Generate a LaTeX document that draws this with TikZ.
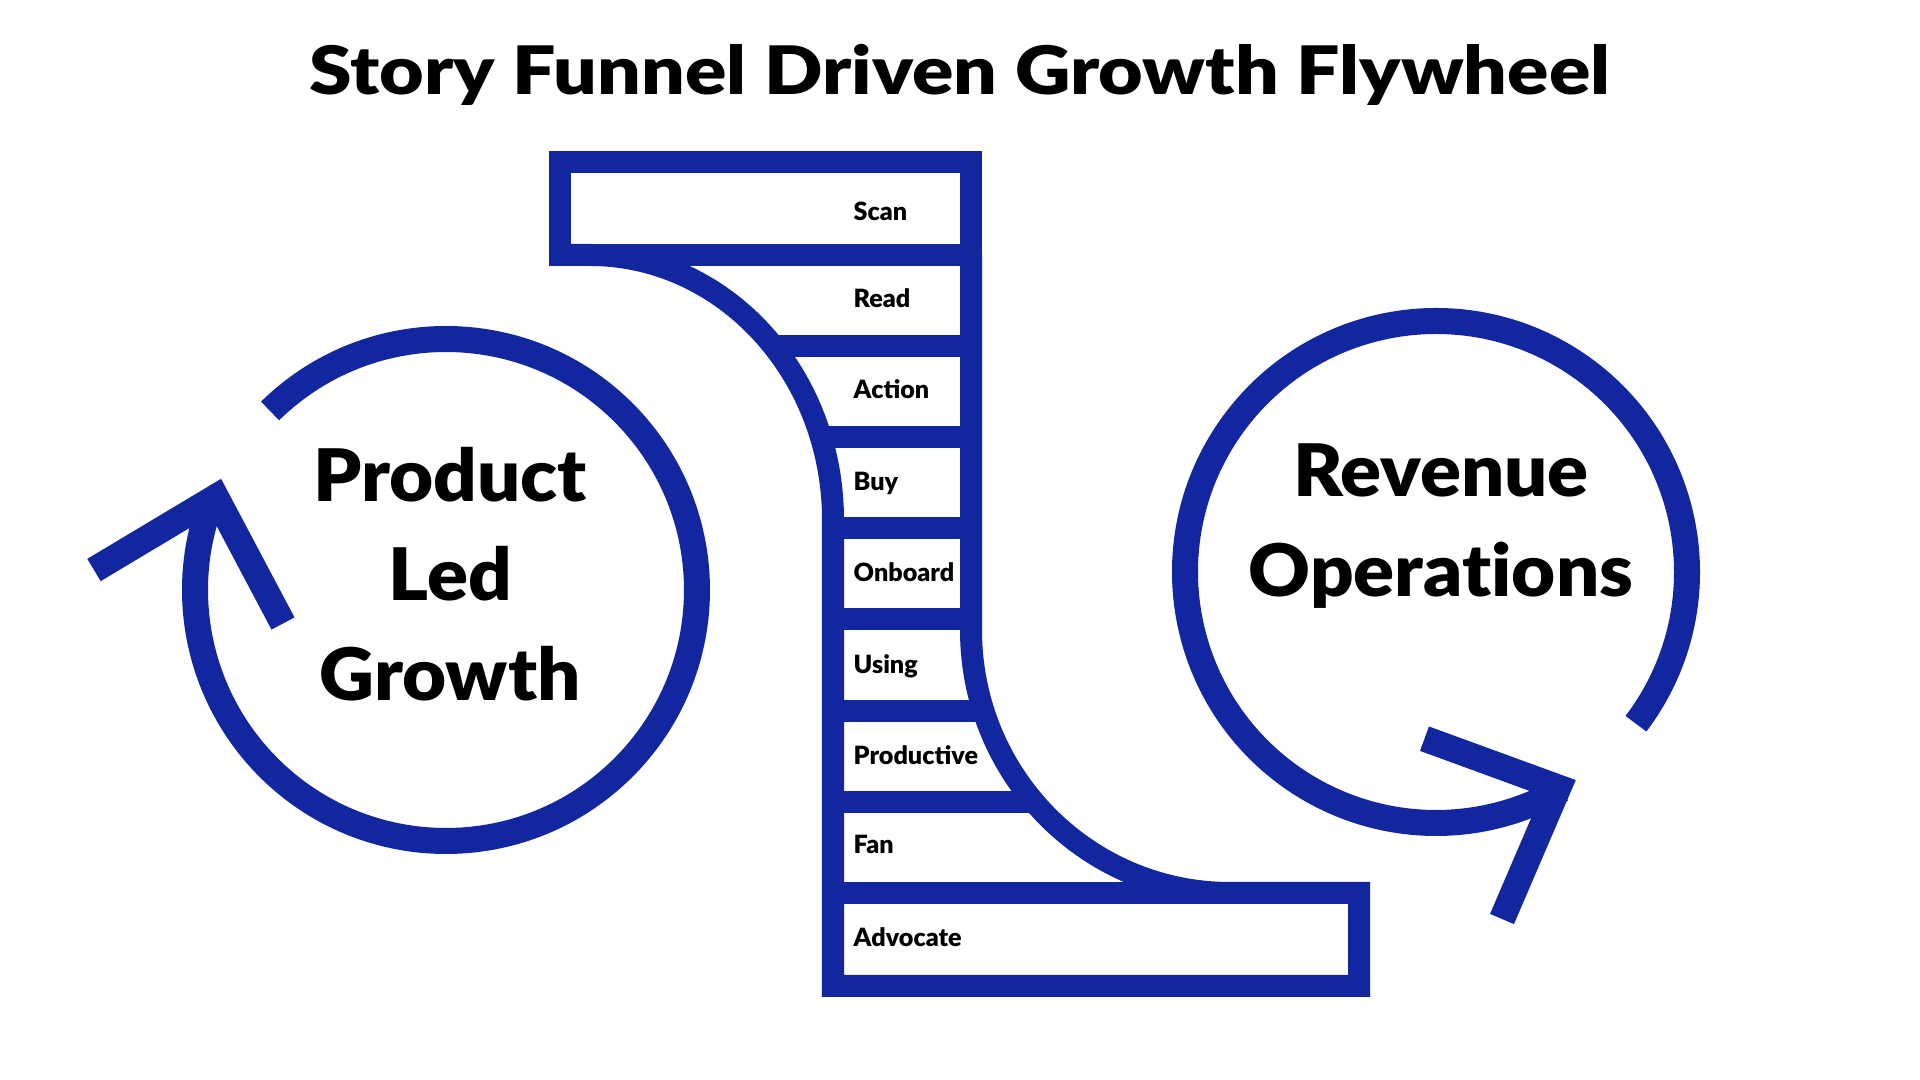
\documentclass[tikz,border=0pt]{standalone}
\usepackage{fontspec}
\newfontfamily\flyfont{Lato Black}
\newfontfamily\bigfont{Lato Black}[FakeStretch=1.05,Ligatures=NoCommon]
\newfontfamily\titlefont{Lato Black}[FakeStretch=1.15]
\usetikzlibrary{positioning}
\definecolor{flyblue}{RGB}{18,38,160}

\begin{document}
\begin{tikzpicture}[x=0.01cm,y=-0.01cm,
 funnel/.style={draw=flyblue,line width=0.22cm},
 loopline/.style={draw=flyblue,line width=0.26cm},
 stage/.style={anchor=base west,inner sep=0pt,font=\flyfont\fontsize{7.15}{8}\selectfont},
 big/.style={align=center,inner sep=0pt,font=\bigfont\fontsize{20.6}{28.3}\selectfont}]
\fill[white] (0,0) rectangle (1920,1080);
\useasboundingbox (0,0) rectangle (1920,1080);
\node[anchor=base,inner sep=0pt,font=\titlefont\fontsize{19}{23}\selectfont] (title) at (960,95) {Story Funnel Driven Growth Flywheel};
% funnel outline
\draw[funnel] (560,162) rectangle (971,255);
\draw[funnel] (560,255) -- (590,255) arc[start angle=-90,end angle=0,x radius=243,y radius=265]
 -- (833,986) -- (1359,986) -- (1359,893) -- (1230,893)
 arc[start angle=90,end angle=180,x radius=259,y radius=263] -- (971,255);
\foreach \y/\xa/\xb in {346/773/971,437/821/971,528/833/971,619.5/833/971,711/833/984,802/833/1034,893/833/1359}
 {\draw[funnel] (\xa,\y) -- (\xb,\y);}
\foreach \name/\txt/\y in {scan/Scan/221,read/Read/308,action/Action/399,buy/Buy/491,onboard/Onboard/582,
 using/Using/674,productive/Productive/765,fan/Fan/854,advocate/Advocate/947}
 {\node[stage] (\name) at (853,\y) {\txt};}
% flywheels
\draw[loopline] (446,590) ++(-134.5:251) arc[start angle=-134.5,end angle=201,radius=251];
\draw[loopline,miter limit=10] (94,570) -- (216,497) -- (283,623.5);
\draw[loopline] (1436,572) ++(37.2:251) arc[start angle=37.2,end angle=-300,radius=251];
\draw[loopline,miter limit=10] (1424.5,738.7) -- (1558.4,787.6) -- (1502,919);
\node[big] (plg) at (450,574) {Product\\Led\\Growth};
\node[big] (revops) at (1441,526) {Revenue\\Operations};
\end{tikzpicture}
\end{document}
